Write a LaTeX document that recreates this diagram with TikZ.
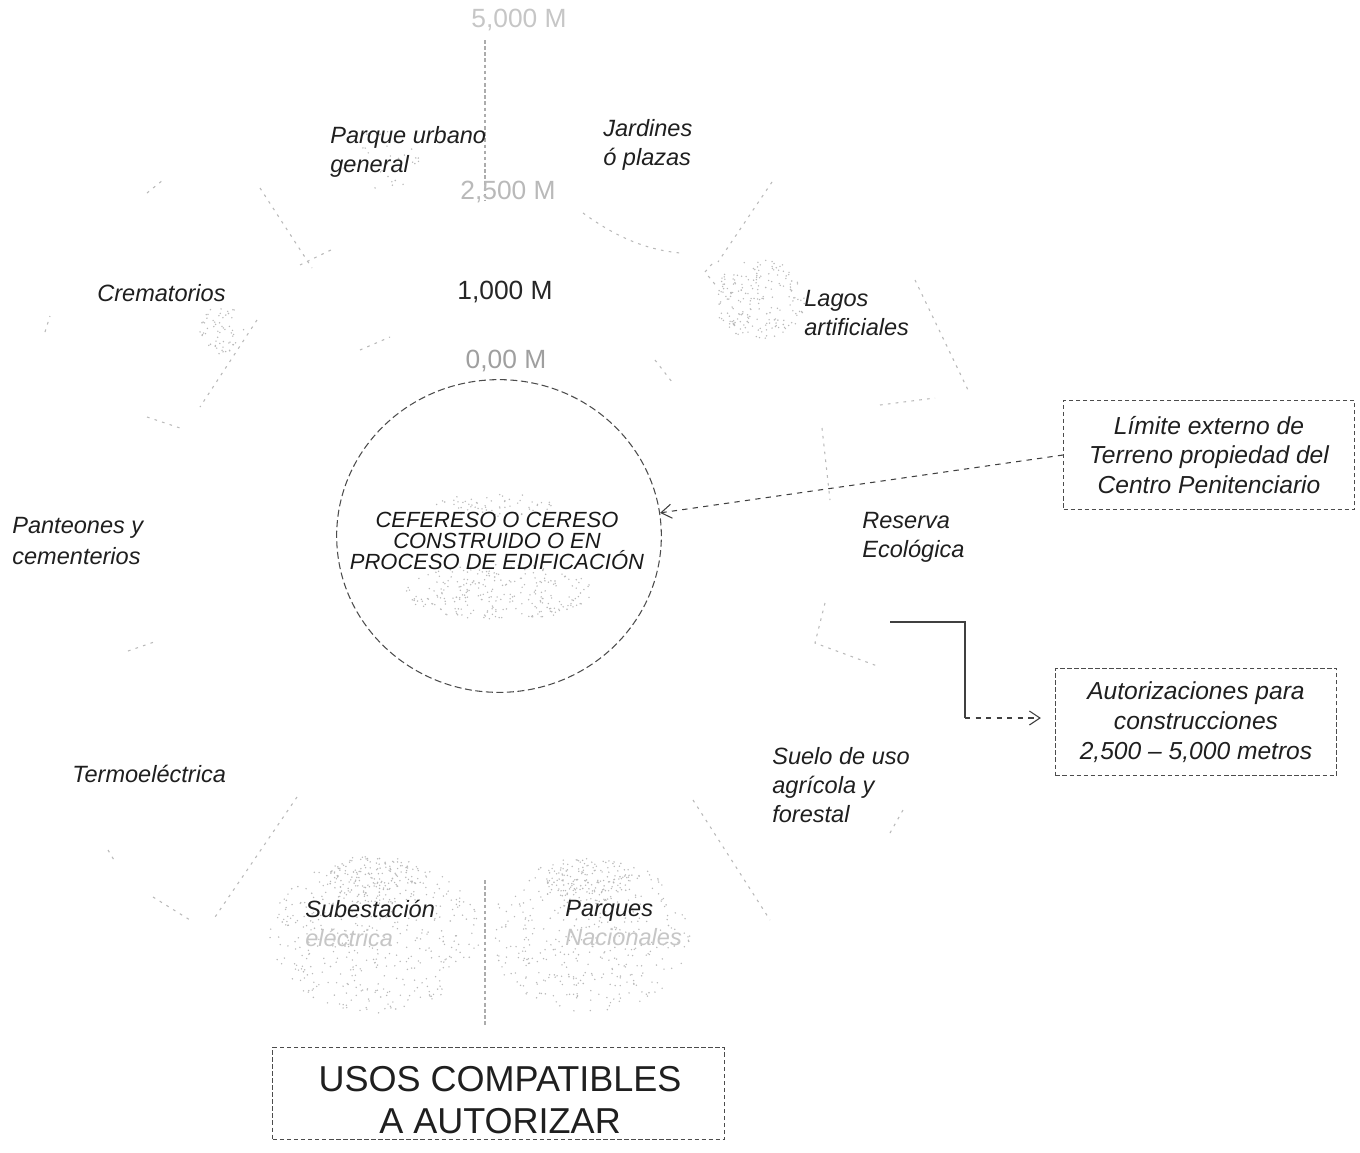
\documentclass[tikz,border=0pt]{standalone}
\usepackage{fontspec}
\setmainfont{Liberation Sans}
\usetikzlibrary{arrows.meta,shapes.geometric,calc}
\newcommand\mystipple[5]{%
  \foreach \k in {1,...,#5}{%
    \pgfmathsetmacro\ang{360*rnd}%
    \pgfmathsetmacro\rad{sqrt(rnd)}%
    \fill[gray!55] ({#1+#3*\rad*cos(\ang)},{#2+#4*\rad*sin(\ang)}) circle[radius=0.45pt];
  }}
\tikzset{
  lbl/.style={font=\fontsize{13.4}{16.5}\selectfont\itshape, align=left, anchor=west, inner sep=0pt, text=black!88},
  dist/.style={font=\fontsize{15}{18}\selectfont, inner sep=0pt},
  boxtxt/.style={draw=black!70, dash pattern=on 2.5pt off 1.5pt, line width=0.6pt, align=center,
                 font=\fontsize{14}{17}\selectfont\itshape, inner sep=0pt, text=black!88},
  faint/.style={gray!55, line width=0.6pt, dash pattern=on 1.5pt off 3pt},
  divider/.style={gray!65, line width=0.6pt, dash pattern=on 2pt off 1.5pt},
  conn/.style={black!75, line width=0.6pt},
  tip/.style={-{Straight Barb[length=6pt,width=8pt]}}
}
\begin{document}
\begin{tikzpicture}[x=0.02cm,y=-0.02cm]
\useasboundingbox (0,0) rectangle (1360,1153);
\fill[white] (0,0) rectangle (1360,1153);

% stippled (scanned) shading
\pgfmathsetseed{7}
\mystipple{500}{592}{95}{28}{260}
\mystipple{495}{505}{60}{12}{60}
\mystipple{222}{330}{22}{24}{60}
\mystipple{760}{300}{45}{42}{200}
\mystipple{375}{935}{105}{78}{420}
\mystipple{375}{880}{50}{25}{150}
\mystipple{590}{935}{100}{78}{380}
\mystipple{590}{880}{45}{22}{140}
\mystipple{380}{160}{40}{30}{35}

% faint ring structure
\draw[divider] (485,40) -- (485,200);
\draw[divider] (485,880) -- (485,1025);
\draw[faint] (260,188) -- (312,268);
\draw[faint] (772,182) -- (718,262);
\draw[faint] (257,320) -- (200,407);
\draw[faint] (915,280) -- (968,390);
\draw[faint] (297,797) -- (213,920);
\draw[faint] (693,800) -- (770,920);
\draw[faint] (825,603) -- (815,643) -- (880,667);
\draw[faint] (300,265) -- (335,248);
\draw[faint] (147,193) -- (163,180);
\draw[faint] (45,332) -- (50,316);
\draw[faint] (147,417) -- (180,428);
\draw[faint] (128,651) -- (157,641);
\draw[faint] (583,213) .. controls (620,240) and (650,250) .. (680,253);
\draw[faint] (153,897) -- (190,920);
\draw[faint] (890,833) -- (903,810);
\draw[faint] (360,350) -- (390,337);
\draw[faint] (655,360) -- (672,382);
\draw[faint] (712,264) -- (705,272) -- (718,288);
\draw[faint] (822,428) -- (830,500);
\draw[faint] (880,405) -- (935,398);
\draw[faint] (108,850) -- (114,860);

% central plot
\node[draw=black!70, dash pattern=on 4pt off 2pt, line width=0.6pt, ellipse,
      minimum width=184.8pt, minimum height=178pt, inner sep=0pt] (core) at (499,536) {};
\node[font=\fontsize{12.5}{11.9}\selectfont\itshape, align=center, inner sep=0pt, text=black!90]
      (cefereso) at (497,541) {CEFERESO O CERESO\\CONSTRUIDO O EN\\PROCESO DE EDIFICACIÓN};

% distance labels
\node[dist, text=gray!45] (m5000) at (519,20) {5,000 M};
\node[dist, text=gray!55] (m2500) at (508,192) {2,500 M};
\node[dist, text=black!85] (m1000) at (505,292) {1,000 M};
\node[dist, text=gray!75] (m000) at (506,361) {0,00 M};

% use labels
\node[lbl] (parque) at (330,152) {Parque urbano\\general};
\node[lbl] (jardines) at (603,145) {Jardines\\ó plazas};
\node[lbl] (crem) at (97,293) {Crematorios};
\node[lbl] (lagos) at (804,313) {Lagos\\artificiales};
\node[lbl, font=\fontsize{13.4}{18}\selectfont\itshape] (panteones) at (12,541) {Panteones y\\cementerios};
\node[lbl] (reserva) at (862,537) {Reserva\\Ecológica};
\node[lbl] (termo) at (72,774) {Termoeléctrica};
\node[lbl] (suelo) at (772,785) {Suelo de uso\\agrícola y\\forestal};
\node[lbl] (subest) at (305,923) {Subestación\\{\color{gray!45}eléctrica}};
\node[lbl] (parques) at (565,923) {Parques\\{\color{gray!45}Nacionales}};

% boxes
\node[boxtxt, minimum width=165.5pt, minimum height=62.4pt] (lim) at (1209,455)
      {Límite externo de\\Terreno propiedad del\\Centro Penitenciario};
\node[boxtxt, minimum width=160pt, minimum height=61.2pt] (aut) at (1196,722)
      {Autorizaciones para\\construcciones\\2,500 -- 5,000 metros};
\node[boxtxt, minimum width=256.8pt, minimum height=52.7pt] (usos) at (498.5,1093.5) {};
\node[font=\fontsize{20.5}{24}\selectfont, align=center, inner sep=0pt, text=black!88]
      (usostext) at (500,1100) {USOS COMPATIBLES\\A AUTORIZAR};

% connectors
\draw[conn, dashed, tip] (lim.west) -- (core);
\coordinate (elbowstart) at (890,622);
\coordinate (elbowA) at (965,622);
\coordinate (elbowB) at (965,718);
\draw[conn] (elbowstart) -- (elbowA) -- (elbowB);
\draw[conn, dashed, tip, shorten >=8pt] (elbowB) -- (elbowB -| aut.west);
\end{tikzpicture}
\end{document}
